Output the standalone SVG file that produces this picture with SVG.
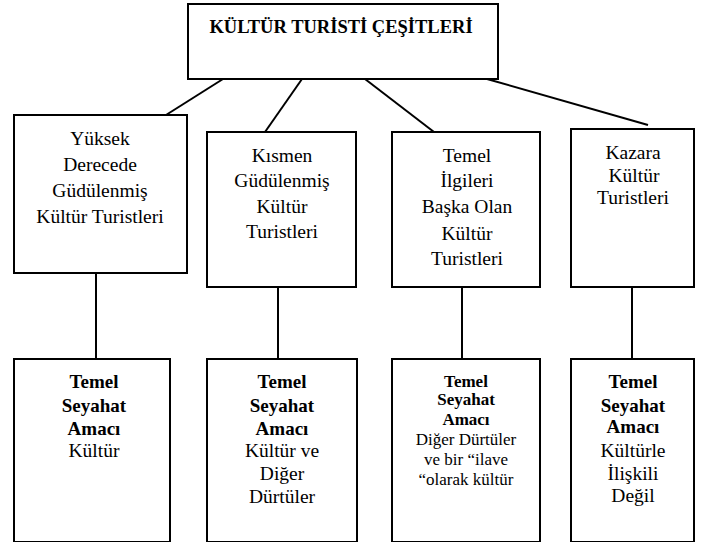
<svg xmlns="http://www.w3.org/2000/svg" width="704" height="542" viewBox="0 0 704 542">
<style>
.box{fill:#fff;stroke:#000;stroke-width:2}
.con line{stroke:#000;stroke-width:2}
text{fill:#000;text-anchor:middle;font-family:Liberation Serif, DejaVu Serif, serif}
.t{font-size:19.5px}
.b{font-size:19px;font-weight:bold}
.s{font-size:17px}
.sb{font-size:17px;font-weight:bold}
.title{font-size:18.5px;font-weight:bold}
</style>
<g id="connectors" class="con">
<line x1="223" y1="79" x2="166" y2="115"/>
<line x1="302" y1="79" x2="265" y2="132"/>
<line x1="365" y1="79" x2="434" y2="132"/>
<line x1="487" y1="79" x2="648" y2="125"/>
<line x1="96" y1="273" x2="96" y2="359"/>
<line x1="278" y1="287" x2="278" y2="359"/>
<line x1="462" y1="287" x2="462" y2="359"/>
<line x1="632" y1="287" x2="632" y2="359"/>
</g>
<g id="root">
<rect class="box" x="188" y="4" width="310" height="75"/>
<text class="title" x="341" y="33">KÜLTÜR TURİSTİ ÇEŞİTLERİ</text>
</g>
<g id="n1">
<rect class="box" x="14" y="115" width="173" height="158"/>
<text class="t" x="100" y="145">Yüksek</text>
<text class="t" x="100" y="171">Derecede</text>
<text class="t" x="100" y="197">Güdülenmiş</text>
<text class="t" x="100" y="223">Kültür Turistleri</text>
</g>
<g id="n2">
<rect class="box" x="207" y="132" width="149" height="155"/>
<text class="t" x="282" y="162">Kısmen</text>
<text class="t" x="282" y="187">Güdülenmiş</text>
<text class="t" x="282" y="213">Kültür</text>
<text class="t" x="282" y="238">Turistleri</text>
</g>
<g id="n3">
<rect class="box" x="392" y="132" width="148" height="155"/>
<text class="t" x="467" y="162">Temel</text>
<text class="t" x="467" y="187">İlgileri</text>
<text class="t" x="467" y="213">Başka Olan</text>
<text class="t" x="467" y="240">Kültür</text>
<text class="t" x="467" y="265">Turistleri</text>
</g>
<g id="n4">
<rect class="box" x="571" y="129" width="123" height="158"/>
<text class="t" x="633" y="159">Kazara</text>
<text class="t" x="634" y="182">Kültür</text>
<text class="t" x="633" y="204">Turistleri</text>
</g>
<g id="m1">
<rect class="box" x="14" y="359" width="156" height="183"/>
<text class="b" x="94" y="388">Temel</text>
<text class="b" x="94" y="412">Seyahat</text>
<text class="b" x="94" y="435">Amacı</text>
<text class="t" x="94" y="457">Kültür</text>
</g>
<g id="m2">
<rect class="box" x="207" y="359" width="150" height="183"/>
<text class="b" x="282" y="388">Temel</text>
<text class="b" x="282" y="412">Seyahat</text>
<text class="b" x="282" y="435">Amacı</text>
<text class="t" x="282" y="457">Kültür ve</text>
<text class="t" x="282" y="480">Diğer</text>
<text class="t" x="282" y="503">Dürtüler</text>
</g>
<g id="m3">
<rect class="box" x="392" y="359" width="148" height="183"/>
<text class="sb" x="466" y="387">Temel</text>
<text class="sb" x="466" y="405">Seyahat</text>
<text class="sb" x="466" y="425">Amacı</text>
<text class="s" x="466" y="445">Diğer Dürtüler</text>
<text class="s" x="466" y="465">ve bir “ilave</text>
<text class="s" x="466" y="485">“olarak kültür</text>
</g>
<g id="m4">
<rect class="box" x="571" y="359" width="123" height="183"/>
<text class="b" x="633" y="388">Temel</text>
<text class="b" x="633" y="412">Seyahat</text>
<text class="b" x="633" y="433">Amacı</text>
<text class="t" x="633" y="457">Kültürle</text>
<text class="t" x="633" y="480">İlişkili</text>
<text class="t" x="633" y="502">Değil</text>
</g>
</svg>
